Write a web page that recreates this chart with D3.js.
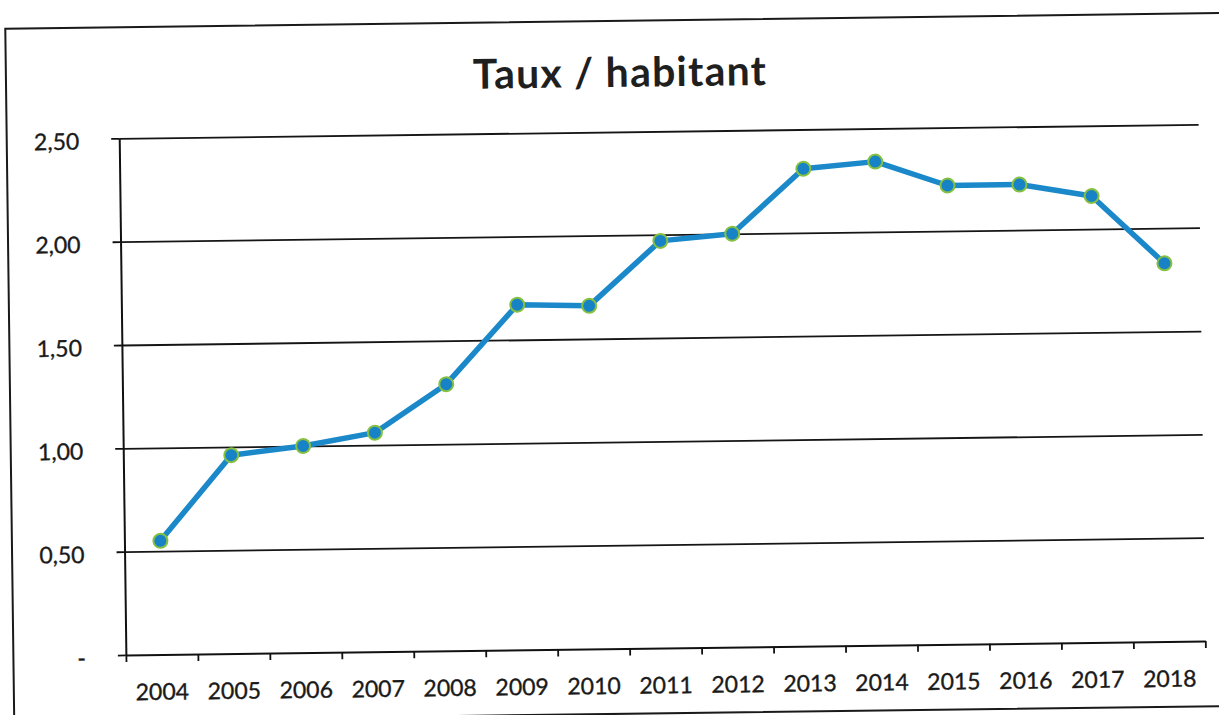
<!DOCTYPE html>
<html>
<head>
<meta charset="utf-8">
<script src="https://cdn.jsdelivr.net/npm/d3@7"></script>
<style>
  body { margin: 0; background: #fff; }
  svg { display: block; }
  .axis text { font-family: Lato, "Open Sans", sans-serif; fill: #1a1a1a; stroke: #1a1a1a; stroke-width: 0.35px; }
</style>
</head>
<body>
<svg id="chart"></svg>
<script>
// data
let years = ['2004', '2005', '2006', '2007', '2008', '2009', '2010', '2011',
             '2012', '2013', '2014', '2015', '2016', '2017', '2018'];
let rates = [0.55, 0.96, 1.00, 1.06, 1.29, 1.67, 1.66, 1.97,
             2.00, 2.31, 2.34, 2.22, 2.22, 2.16, 1.83];
let yTicks = [0, 0.5, 1.0, 1.5, 2.0, 2.5];
let yTickLabels = ['-', '0,50', '1,00', '1,50', '2,00', '2,50'];

function makeChart() {
  let w = 1219;
  let h = 715;

  let svg = d3.select('#chart')
    .attr('width', w)
    .attr('height', h);

  // the original is a scan, a little tilted, so the whole drawing is turned
  let g = svg.append('g')
    .attr('transform', 'rotate(-0.74, 610, 390)');

  // outer frame of the chart object (right side runs off the page)
  g.append('rect')
    .attr('x', 10)
    .attr('y', 21)
    .attr('width', 1260)
    .attr('height', 693)
    .attr('fill', 'none')
    .attr('stroke', '#1a1a1a')
    .attr('stroke-width', 2);

  g.append('text')
    .attr('x', 624)
    .attr('y', 87)
    .attr('text-anchor', 'middle')
    .attr('font-family', 'Lato, "Open Sans", sans-serif')
    .attr('font-weight', 'bold')
    .attr('font-size', '41px')
    .attr('letter-spacing', '1.2px')
    .attr('fill', '#1f1f1f')
    .text('Taux / habitant');

  let left = 122.5, right = 1202, top = 132, bottom = 648.7;

  let xScale = d3.scaleBand()
    .domain(years)
    .range([left, right]);

  // used only for the tick marks between the categories
  let edgeScale = d3.scaleLinear()
    .domain([0, years.length])
    .range([left, right]);

  let yScale = d3.scaleLinear()
    .domain([0, 2.5])
    .range([bottom, top]);

  // gridlines
  g.append('g')
    .attr('class', 'grid')
    .attr('transform', `translate(${left},0)`)
    .call(d3.axisLeft(yScale).tickValues(yTicks.slice(1))
      .tickSize(-(right - left)).tickFormat(''))
    .call((s) => s.select('.domain').remove())
    .call((s) => s.selectAll('line').attr('stroke', '#151515').attr('stroke-width', 1.8));

  // y axis with labels
  g.append('g')
    .attr('class', 'axis')
    .attr('transform', `translate(${left},0)`)
    .call(d3.axisLeft(yScale).tickValues(yTicks)
      .tickFormat((d, i) => yTickLabels[i])
      .tickSize(8).tickSizeOuter(0).tickPadding(32))
    .call((s) => s.select('.domain').attr('stroke', '#111').attr('stroke-width', 2))
    .call((s) => s.selectAll('line').attr('stroke', '#111').attr('stroke-width', 1.8))
    .call((s) => s.selectAll('text').attr('font-size', '23px').attr('dy', '0.45em'));

  // x axis: ticks on the category edges
  g.append('g')
    .attr('class', 'axis')
    .attr('transform', `translate(0,${bottom})`)
    .call(d3.axisBottom(edgeScale).ticks(years.length).tickSize(7)
      .tickSizeOuter(0).tickFormat(''))
    .call((s) => s.select('.domain').attr('stroke', '#111').attr('stroke-width', 2))
    .call((s) => s.selectAll('line').attr('stroke', '#111').attr('stroke-width', 1.8));

  // x labels in the middle of each category
  g.append('g')
    .attr('class', 'axis')
    .attr('transform', `translate(0,${bottom})`)
    .call(d3.axisBottom(xScale).tickSize(0).tickPadding(29))
    .call((s) => s.select('.domain').remove())
    .call((s) => s.selectAll('text').attr('font-size', '23px'));

  let line = d3.line()
    .x((d, i) => xScale(years[i]) + xScale.bandwidth() / 2)
    .y((d) => yScale(d));

  g.append('path')
    .datum(rates)
    .attr('d', line)
    .attr('fill', 'none')
    .attr('stroke', '#1b88ca')
    .attr('stroke-width', 5.5)
    .attr('stroke-linejoin', 'round');

  g.selectAll('circle')
    .data(rates)
    .enter()
    .append('circle')
    .attr('cx', (d, i) => xScale(years[i]) + xScale.bandwidth() / 2)
    .attr('cy', (d) => yScale(d))
    .attr('r', 7)
    .attr('fill', '#1783c6')
    .attr('stroke', '#86c040')
    .attr('stroke-width', 2);
}

window.onload = function () {
  makeChart();
}
</script>
</body>
</html>
